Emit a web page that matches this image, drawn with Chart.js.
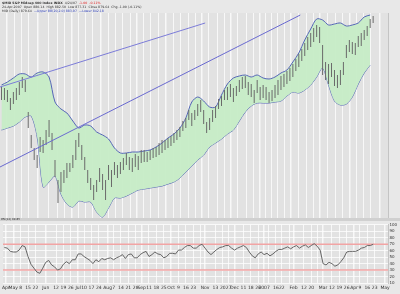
<!DOCTYPE html>
<html>
<head>
<meta charset="UTF-8">
<title>MID daily with Bollinger Bands and RSI</title>
<script src="https://cdn.jsdelivr.net/npm/chart.js@4.4.0/dist/chart.umd.min.js"></script>
<style>
  body { margin:0; width:400px; height:294px; overflow:hidden; position:relative; background:#e8e8e8; font-family:"DejaVu Sans", sans-serif; }
  .hd { position:absolute; left:2px; font-size:3.2px; line-height:4px; color:#333; white-space:nowrap; z-index:2; }
  .red { color:#e02020; }
  .blue { color:#3344bb; }
  #sep { position:absolute; left:0; top:218px; width:400px; height:3px; background:#d0d0d0; font-size:2.8px; line-height:3px; color:#333; z-index:2; }
  #c1 { position:absolute; left:0; top:0; }
  #c2 { position:absolute; left:0; top:221px; }
</style>
</head>
<body>
<div class="hd" style="top:0.5px"><b>$MID S&amp;P Midcap 400 Index INDX</b> &nbsp;4/24/07 &nbsp;<span class="red">-1.00 &nbsp;-0.11%</span></div>
<div class="hd" style="top:4.5px">24-Apr-2007 &nbsp;Open 880.14 &nbsp;High 882.50 &nbsp;Low 877.31 &nbsp;Close 879.64 &nbsp;Chg -1.00 (-0.11%)</div>
<div class="hd" style="top:8.5px">MID (Daily) 879.64 &nbsp;<span class="blue">&mdash;Upper BB(20,2.0) 883.97</span> &nbsp;<span class="blue">&mdash;Lower 842.18</span></div>
<div id="sep">&nbsp;RSI(14) 69.85</div>

<canvas id="c1" width="400" height="218"></canvas>
<canvas id="c2" width="400" height="73"></canvas>

<script>
// one bar every 2 trading days, starting 21-Apr-2006 (day 0)
const barLow = [799, 799, 797, 789, 795, 799, 804, 811, 807, 771,
  751, 739, 731, 747, 746, 754, 762, 749, 722, 696,
  707, 716, 721, 727, 731, 739, 752, 739, 729, 716,
  709, 699, 707, 717, 709, 699, 719, 712, 724, 721,
  725, 729, 734, 729, 727, 732, 729, 736, 737, 737,
  739, 741, 742, 744, 746, 749, 751, 753, 756, 759,
  762, 768, 771, 779, 773, 779, 783, 787, 775, 766,
  769, 777, 781, 790, 793, 799, 799, 802, 797, 803,
  807, 810, 811, 804, 802, 796, 806, 799, 801, 799,
  796, 798, 801, 804, 809, 812, 815, 818, 822, 828,
  832, 838, 843, 849, 852, 857, 862, 856, 824, 819,
  815, 822, 813, 811, 814, 824, 841, 847, 845, 844,
  852, 853, 859, 863, 871, 876];
const barHigh = [812, 811, 809, 801, 807, 811, 817, 822, 819, 787,
  764, 751, 744, 762, 759, 769, 779, 766, 739, 719,
  727, 729, 736, 736, 744, 759, 766, 754, 742, 729,
  721, 714, 719, 731, 725, 719, 734, 729, 737, 734,
  737, 741, 746, 742, 741, 745, 743, 749, 749, 747,
  749, 751, 752, 756, 759, 759, 761, 763, 766, 769,
  772, 778, 781, 789, 786, 789, 795, 799, 789, 777,
  781, 789, 793, 800, 803, 809, 812, 815, 811, 813,
  819, 822, 823, 817, 815, 809, 819, 812, 814, 812,
  807, 809, 814, 819, 823, 825, 828, 831, 835, 840,
  845, 850, 856, 862, 866, 871, 874, 872, 854, 837,
  835, 836, 829, 824, 829, 837, 854, 859, 857, 856,
  863, 866, 869, 873, 880, 883];

// Bollinger bands, one point every 4 trading days
const bbUpper = [814, 817, 821, 825, 825, 822, 826, 827, 822, 797,
  790, 786, 778, 771, 774, 773, 767, 764, 760, 751,
  746, 746, 747, 747, 748, 749, 752, 756, 761, 765,
  771, 781, 797, 802, 798, 792, 792, 804, 815, 821,
  823, 824, 822, 824, 821, 820, 822, 826, 829, 837,
  846, 859, 870, 880, 879, 874, 875, 876, 873, 874,
  876, 882, 884];
const bbLower = [769, 771, 773, 777, 782, 783, 762, 712, 717, 723,
  705, 695, 692, 698, 697, 697, 687, 682, 691, 701,
  701, 703, 706, 709, 710, 711, 712, 713, 715, 717,
  721, 727, 733, 739, 744, 752, 756, 760, 765, 769,
  778, 787, 793, 796, 796, 796, 797, 798, 803, 807,
  806, 809, 814, 822, 831, 814, 798, 794, 795, 802,
  815, 826, 834];

// RSI(14), one point every 2 trading days
const rsi = [65, 64, 59, 58, 58, 61, 68, 66, 51, 39,
  33, 27, 25, 33, 42, 45, 38, 35, 30, 32,
  39, 43, 40, 46, 46, 55, 55, 51, 48, 45,
  40, 46, 43, 48, 46, 48, 49, 46, 49, 51,
  54, 48, 54, 55, 49, 49, 54, 57, 59, 51,
  54, 58, 55, 54, 49, 51, 56, 56, 55, 61,
  61, 65, 68, 68, 64, 64, 68, 70, 64, 58,
  54, 58, 62, 65, 66, 68, 68, 64, 61, 64,
  66, 68, 65, 58, 52, 49, 55, 58, 54, 56,
  52, 55, 59, 62, 62, 64, 66, 63, 66, 68,
  64, 67, 69, 65, 68, 71, 67, 61, 40, 38,
  42, 40, 36, 38, 43, 49, 58, 59, 59, 59,
  61, 64, 65, 68, 68, 70];
const rsiLevels = [70, 30];

// trend lines drawn on the price panel: [day, price]
const trendA = [[-1, 812], [137, 876]];
const trendB = [[-1, 732], [201, 884]];

// x axis: trading-day index and label
const tickDays = [1, 6, 11, 16, 21, 28, 35, 40, 45, 50, 54, 59, 64, 70, 74, 79, 84, 89, 93,
  98, 103, 108, 113, 118, 123, 128, 133, 136, 143, 148, 152, 156, 162, 167, 172, 176, 179,
  184, 188, 193, 196, 203, 208, 212, 216, 222, 227, 232, 237, 241, 246, 251, 258];
const tickNames = ['Apr', 'May', '8', '15', '22', 'Jun', '12', '19', '26', 'Jul', '10', '17', '24', 'Aug', '7', '14', '21', '28', 'Sep',
  '11', '18', '25', 'Oct', '9', '16', '23', '', 'Nov', '13', '20', '27', 'Dec', '11', '18', '26', '2007', '',
  '16', '22', '', 'Feb', '12', '20', '', 'Mar', '12', '19', '26', 'Apr', '9', '16', '23', 'May'];

const FONT = 'DejaVu Sans';

const plotBg = {
  id: 'plotBg',
  beforeDraw(chart) {
    const a = chart.chartArea, ctx = chart.ctx;
    ctx.save();
    ctx.fillStyle = '#e2e2e2';
    ctx.fillRect(a.left, a.top, a.width, a.height);
    ctx.restore();
  }
};

function isMonth(v) {
  const n = tickNames[tickDays.indexOf(v)] || '';
  return n.length >= 3;
}

function xScale(showLabels) {
  return {
    type: 'linear', min: -1, max: 260, offset: false,
    afterBuildTicks: s => { s.ticks = tickDays.map(v => ({value: v})); },
    afterFit: s => { s.height = showLabels ? 11 : 0; },
    grid: { color: 'rgba(255,255,255,0.75)', lineWidth: c => (c.tick && isMonth(c.tick.value)) ? 1.5 : 1, drawTicks: false },
    border: { display: false },
    ticks: { display: showLabels, autoSkip: false, maxRotation: 0, padding: 2, color: '#333',
      font: { size: 4.5, family: FONT }, callback: (v, i) => tickNames[i] }
  };
}

function yScale(min, max, step) {
  return {
    position: 'right', min: min, max: max,
    afterFit: s => { s.width = 12; },
    afterBuildTicks: s => { s.ticks = s.ticks.filter(t => t.value % step === 0); },
    grid: { color: 'rgba(255,255,255,0.75)', lineWidth: 1, drawTicks: false },
    border: { display: true, color: '#c4c4c4' },
    ticks: { stepSize: step, autoSkip: false, padding: 1.5, color: '#333', font: { size: 4, family: FONT } }
  };
}

const common = {
  responsive: false, animation: false, devicePixelRatio: 1,
  plugins: { legend: { display: false }, tooltip: { enabled: false } }
};

new Chart(document.getElementById('c1'), {
  type: 'bar',
  data: {
    datasets: [
      { type: 'line', data: bbUpper.map((v, i) => ({x: i * 4, y: v})), borderColor: '#5666b8', borderWidth: 1,
        pointRadius: 0, tension: 0.3, fill: '+1', backgroundColor: 'rgba(198,236,198,0.95)', order: 2 },
      { type: 'line', data: bbLower.map((v, i) => ({x: i * 4, y: v})), borderColor: '#5666b8', borderWidth: 1,
        pointRadius: 0, tension: 0.3, fill: false, order: 2 },
      { type: 'bar', data: barLow.map((v, i) => ({x: i * 2, y: [v, barHigh[i]]})), backgroundColor: '#6a6a6a',
        barThickness: 1, inflateAmount: 0, borderWidth: 0, order: 1 },
      { type: 'line', data: trendA.map(p => ({x: p[0], y: p[1]})), borderColor: '#7c7cd8', borderWidth: 1, pointRadius: 0, order: 0 },
      { type: 'line', data: trendB.map(p => ({x: p[0], y: p[1]})), borderColor: '#6a6ad0', borderWidth: 1, pointRadius: 0, order: 0 }
    ]
  },
  options: Object.assign({}, common, {
    layout: { padding: { top: 13, left: 0, right: 0, bottom: 0 } },
    scales: { x: xScale(false), y: yScale(681, 886, 5) }
  }),
  plugins: [plotBg]
});

new Chart(document.getElementById('c2'), {
  type: 'line',
  data: {
    datasets: [
      { data: rsi.map((v, i) => ({x: i * 2, y: v})), borderColor: '#666', borderWidth: 1, pointRadius: 0, order: 0 },
      ...rsiLevels.map(l => ({ data: [{x: -1, y: l}, {x: 260, y: l}], borderColor: '#f2a4a4', borderWidth: 1.5, pointRadius: 0, order: 1 }))
    ]
  },
  options: Object.assign({}, common, {
    layout: { padding: 0 },
    scales: { x: xScale(true), y: yScale(10, 100, 10) }
  }),
  plugins: [plotBg]
});
</script>
</body>
</html>
